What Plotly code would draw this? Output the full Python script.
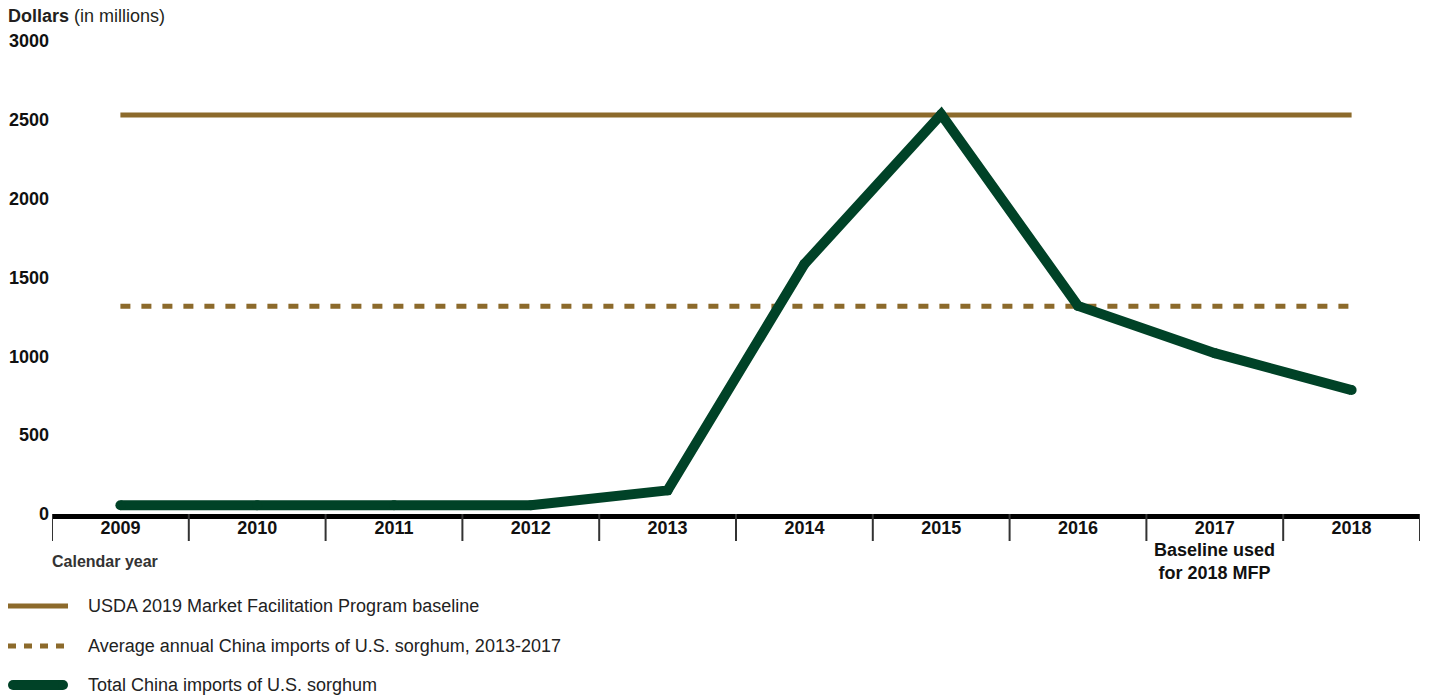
import plotly.graph_objects as go

years = ["2009", "2010", "2011", "2012", "2013", "2014", "2015", "2016", "2017", "2018"]
china_imports = [55, 55, 55, 55, 150, 1585, 2535, 1320, 1020, 786]
mfp_baseline = [2530] * 10
avg_2013_2017 = [1318] * 10
y_ticks = [0, 500, 1000, 1500, 2000, 2500, 3000]

GOLD = "#8C6A2B"
GREEN = "#004227"
FONT = "Arial, Liberation Sans, sans-serif"

L, R, T, B = 52, 9, 41, 184
W, H = 1429, 698
PW, PH = W - L - R, H - T - B

def px_x(px):
    return (px - L) / PW

def px_y(py):
    return (H - B - py) / PH

fig = go.Figure()
fig.add_trace(go.Scatter(x=years, y=mfp_baseline, mode="lines",
                         line=dict(color=GOLD, width=5), hoverinfo="skip"))
fig.add_trace(go.Scatter(x=years, y=avg_2013_2017, mode="lines",
                         line=dict(color=GOLD, width=5, dash="10px,11px"), hoverinfo="skip"))
fig.add_trace(go.Scatter(x=years, y=china_imports, mode="lines+markers",
                         line=dict(color=GREEN, width=10),
                         marker=dict(color=GREEN, size=10, line=dict(width=0))))

shapes = []
# category boundary ticks
for i in range(len(years) + 1):
    shapes.append(dict(type="line", xref="x", yref="paper", x0=i - 0.5, x1=i - 0.5,
                       y0=0, y1=-27 / PH, line=dict(color="#333333", width=2)))

# manual legend
legend_items = [
    ("USDA 2019 Market Facilitation Program baseline", dict(color=GOLD, width=5), 606),
    ("Average annual China imports of U.S. sorghum, 2013-2017", dict(color=GOLD, width=5, dash="8px,8px"), 646),
    ("Total China imports of U.S. sorghum", dict(color=GREEN, width=10), 685),
]
annotations = []
for text, ln, py in legend_items:
    x0 = 8 + (5 if ln["width"] == 10 else 0)
    x1 = 68 - (5 if ln["width"] == 10 else 0)
    shapes.append(dict(type="line", xref="paper", yref="paper", x0=px_x(x0), x1=px_x(x1),
                       y0=px_y(py), y1=px_y(py), line=ln))
    if ln["width"] == 10:
        for cx in (x0, x1):
            shapes.append(dict(type="circle", xref="paper", yref="paper",
                               x0=px_x(cx - 5), x1=px_x(cx + 5), y0=px_y(py - 5), y1=px_y(py + 5),
                               fillcolor=GREEN, line=dict(width=0)))
    annotations.append(dict(text=text, xref="paper", yref="paper", x=px_x(86), y=px_y(py),
                            xanchor="left", yanchor="middle", showarrow=False,
                            font=dict(family=FONT, size=18, color="#222222")))

annotations.append(dict(text="<b>Dollars</b> (in millions)", xref="paper", yref="paper",
                        x=px_x(6), y=px_y(16), xanchor="left", yanchor="middle", showarrow=False,
                        font=dict(family=FONT, size=18, color="#231F20")))
annotations.append(dict(text="<b>Calendar year</b>", xref="paper", yref="paper",
                        x=px_x(50), y=px_y(561), xanchor="left", yanchor="middle", showarrow=False,
                        font=dict(family=FONT, size=16, color="#333333")))
annotations.append(dict(text="<b>Baseline used<br>for 2018 MFP</b>", xref="x", yref="paper",
                        x=years.index("2017"), y=px_y(561), xanchor="center", yanchor="middle",
                        showarrow=False,
                        font=dict(family=FONT, size=18, color="#111111")))

fig.update_layout(
    width=W, height=H,
    margin=dict(l=L, r=R, t=T, b=B),
    paper_bgcolor="white", plot_bgcolor="white",
    showlegend=False,
    font=dict(family=FONT),
    xaxis=dict(type="category", range=[-0.5, 9.5], showgrid=False, zeroline=False,
               showline=True, linecolor="black", linewidth=5, ticks="",
               ticklabelstandoff=-7,
               tickfont=dict(family=FONT, size=18, color="#111111", weight="bold")),
    yaxis=dict(range=[0, 3000], tickvals=y_ticks, showgrid=False, zeroline=False,
               showline=False, ticks="", ticklabelstandoff=2,
               tickfont=dict(family=FONT, size=18, color="#111111", weight="bold")),
    shapes=shapes,
    annotations=annotations,
)

fig.write_html("out.html")
